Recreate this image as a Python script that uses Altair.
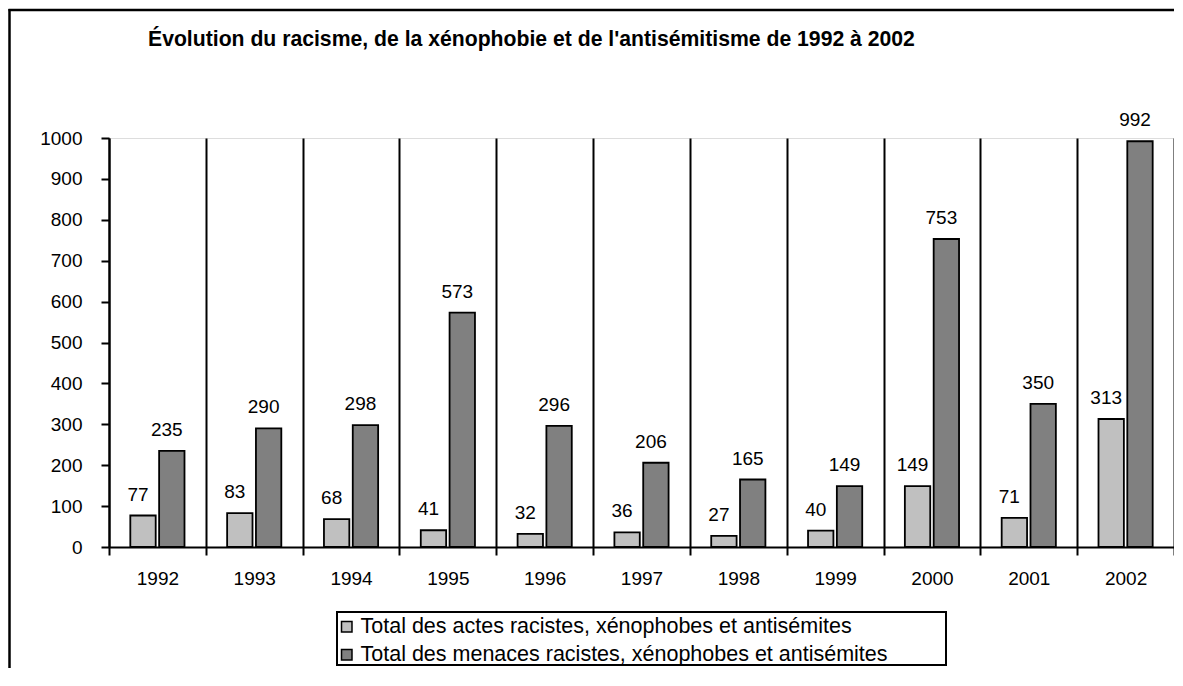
import altair as alt
import pandas as pd

years = ["1992", "1993", "1994", "1995", "1996", "1997", "1998", "1999", "2000", "2001", "2002"]
actes = [77, 83, 68, 41, 32, 36, 27, 40, 149, 71, 313]
menaces = [235, 290, 298, 573, 296, 206, 165, 149, 753, 350, 992]
series = ["Total des actes racistes, xénophobes et antisémites",
          "Total des menaces racistes, xénophobes et antisémites"]
colors = ["#C0C0C0", "#808080"]
y_ticks = [0, 100, 200, 300, 400, 500, 600, 700, 800, 900, 1000]
title_text = "Évolution du racisme, de la xénophobie et de l'antisémitisme de 1992 à 2002"

rows = []
for i, yr in enumerate(years):
    rows.append({"annee": yr, "serie": series[0], "valeur": actes[i]})
    rows.append({"annee": yr, "serie": series[1], "valeur": menaces[i]})
df = pd.DataFrame(rows)
one = pd.DataFrame({"k": [0]})

FONT = "Liberation Sans"
W, H = 1065, 409

x_enc = alt.X("annee:N", sort=years, title=None,
              scale=alt.Scale(paddingInner=0, paddingOuter=0),
              axis=alt.Axis(labelAngle=0, tickBand="extent", grid=True,
                            gridColor="black", gridWidth=2, gridOpacity=1,
                            tickColor="black", tickWidth=2, tickSize=8,
                            domainColor="black", domainWidth=2,
                            labelPadding=14, labelFontSize=19, labelFont=FONT,
                            labelColor="black"))
xo_enc = alt.XOffset("serie:N", sort=series,
                     scale=alt.Scale(domain=series, paddingInner=0.119, paddingOuter=0.74))
y_enc = alt.Y("valeur:Q", title=None,
              scale=alt.Scale(domain=[0, 1000], nice=False),
              axis=alt.Axis(values=y_ticks, format="d", grid=False, tickColor="black",
                            tickWidth=2, tickSize=8, domainColor="black", domainWidth=2,
                            labelPadding=19, labelFontSize=19, labelFont=FONT,
                            labelColor="black"))

bars = alt.Chart(df).mark_bar(stroke="black", strokeWidth=1.8).encode(
    x=x_enc, xOffset=xo_enc, y=y_enc,
    color=alt.Color("serie:N", sort=series,
                    scale=alt.Scale(domain=series, range=colors),
                    legend=alt.Legend(title=None, orient="none", legendX=227, legendY=478,
                                      padding=0, symbolType="square", symbolSize=110,
                                      symbolStrokeColor="black", symbolStrokeWidth=1.5,
                                      labelFont=FONT, labelFontSize=21.5, labelColor="black",
                                      labelLimit=800, rowPadding=5, labelOffset=3))
)

labels = alt.Chart(df).mark_text(font=FONT, fontSize=19, color="black",
                                 baseline="middle", dy=-21, dx=-5).encode(
    x=alt.X("annee:N", sort=years), xOffset=alt.XOffset("serie:N", sort=series),
    y=alt.Y("valeur:Q"), text=alt.Text("valeur:Q")
)

title = alt.Chart(one).mark_text(font=FONT, fontSize=21.2, fontWeight="bold", color="black",
                                 align="left", baseline="alphabetic").encode(
    x=alt.value(39), y=alt.value(-92), text=alt.value(title_text)
)

border_left = alt.Chart(one).mark_rule(color="black", strokeWidth=2.5).encode(
    x=alt.value(-99.5), y=alt.value(-129), y2=alt.value(560)
)
border_top = alt.Chart(one).mark_rule(color="black", strokeWidth=2.5).encode(
    x=alt.value(-100.5), x2=alt.value(1065), y=alt.value(-128)
)
legend_box = alt.Chart(one).mark_rect(fill="white", fillOpacity=0, stroke="black",
                                      strokeWidth=2).encode(
    x=alt.value(228), x2=alt.value(837), y=alt.value(474), y2=alt.value(527)
)

chart = alt.layer(border_left, border_top, legend_box, bars, labels, title).properties(
    width=W, height=H,
    padding={"left": 101, "top": 130, "right": 0, "bottom": 121},
    autosize=alt.AutoSizeParams(type="none"),
).configure_view(stroke="black", strokeWidth=2).configure(background="white")

chart.save("out.html", embed_options={"renderer": "svg", "actions": False})
